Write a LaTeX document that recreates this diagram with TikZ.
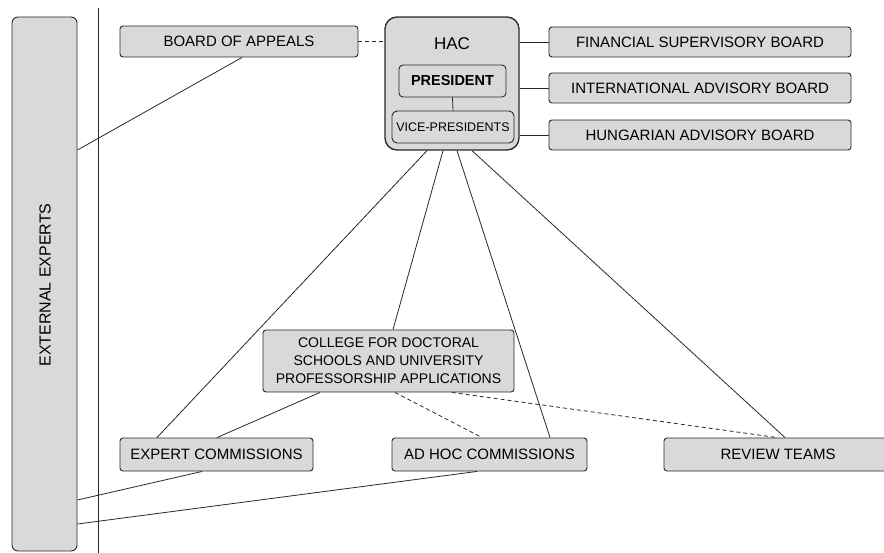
\documentclass[tikz,border=0pt]{standalone}
\usepackage{fontspec}
\setmainfont{Liberation Sans}
\usetikzlibrary{calc}
\definecolor{boxfill}{RGB}{217,217,217}
\definecolor{edge}{RGB}{40,40,40}
\tikzset{
  orgbox/.style={draw=edge, fill=boxfill, line width=0.9pt, rounded corners=3pt,
    inner sep=0pt, align=center, font=\fontsize{15}{18}\selectfont},
  link/.style={draw=edge, line width=0.8pt},
  dlink/.style={draw=edge, line width=0.8pt, dash pattern=on 4pt off 3pt},
}
\begin{document}
\begin{tikzpicture}[x=1pt,y=-1pt]
\useasboundingbox (0,0) rectangle (884,553);
% external experts
\node[orgbox, rounded corners=6pt, minimum width=65pt, minimum height=534pt] (ee) at (44.5,284) {};
\node[rotate=90, font=\fontsize{16}{18}\selectfont] (eetxt) at (45,285) {EXTERNAL EXPERTS};
\coordinate (vtop) at (98,8);
\coordinate (vbot) at (98,553);
\draw[link] (vtop) -- (vbot);
% top row
\node[orgbox, minimum width=238pt, minimum height=31pt] (boa) at (239,41.5) {BOARD OF APPEALS};
\node[orgbox, rounded corners=12pt, line width=1.3pt, minimum width=134pt, minimum height=133pt] (hac) at (452,83.5) {};
\node[font=\fontsize{17}{18}\selectfont] (hactxt) at (452,44) {HAC};
\node[orgbox, rounded corners=4pt, minimum width=107pt, minimum height=32pt, font=\bfseries\fontsize{14.5}{18}\selectfont] (pres) at (452.5,81) {PRESIDENT};
\node[orgbox, rounded corners=5pt, minimum width=122pt, minimum height=32pt, font=\fontsize{12.5}{15}\selectfont] (vp) at (453,127) {VICE-PRESIDENTS};
\node[orgbox, minimum width=302pt, minimum height=30pt] (fsb) at (700,42) {FINANCIAL SUPERVISORY BOARD};
\node[orgbox, minimum width=302pt, minimum height=30pt] (iab) at (700,88) {INTERNATIONAL ADVISORY BOARD};
\node[orgbox, minimum width=302pt, minimum height=30pt] (hab) at (700,135) {HUNGARIAN ADVISORY BOARD};
% middle and bottom
\node[orgbox, minimum width=251pt, minimum height=62pt, font=\fontsize{14}{18}\selectfont] (col) at (388.5,361) {COLLEGE FOR DOCTORAL\\SCHOOLS AND UNIVERSITY\\PROFESSORSHIP APPLICATIONS};
\node[orgbox, minimum width=193pt, minimum height=33pt] (ec) at (216.5,454.5) {EXPERT COMMISSIONS};
\node[orgbox, minimum width=195pt, minimum height=33pt] (ah) at (489.5,454.5) {AD HOC COMMISSIONS};
\node[orgbox, minimum width=228pt, minimum height=33pt] (rt) at (778,454.5) {REVIEW TEAMS};
% connectors
\draw[dlink] (boa.east) -- (boa.east -| hac.west);
\draw[link] (fsb.west -| hac.east) -- (fsb.west);
\draw[link] (iab.west -| hac.east) -- (iab.west);
\draw[link] (hab.west -| hac.east) -- (hab.west);
\draw[link] (pres.south) -- (vp.north);
\draw[link] ([xshift=3pt]boa.south) -- ([yshift=134pt]ee.east);
\draw[link] ([xshift=-25pt]hac.south) -- ([xshift=-59.5pt]ec.north);
\draw[link] ([xshift=-9pt]hac.south) -- ([xshift=4.5pt]col.north);
\draw[link] ([xshift=5pt]hac.south) -- ([xshift=60.5pt]ah.north);
\draw[link] ([xshift=20pt]hac.south) -- ([xshift=7pt]rt.north);
\draw[link] ([xshift=-68.5pt]col.south) -- ([xshift=0.5pt]ec.north);
\draw[dlink] ([xshift=6.5pt]col.south) -- ([xshift=-7.5pt]ah.north);
\draw[dlink] ([xshift=63.5pt]col.south) -- ([xshift=-1pt]rt.north);
\draw[link] ([xshift=-14.5pt]ec.south) -- ([yshift=-216pt]ee.east);
\draw[link] ([xshift=-12.5pt]ah.south) -- ([yshift=-240pt]ee.east);
\end{tikzpicture}
\end{document}
